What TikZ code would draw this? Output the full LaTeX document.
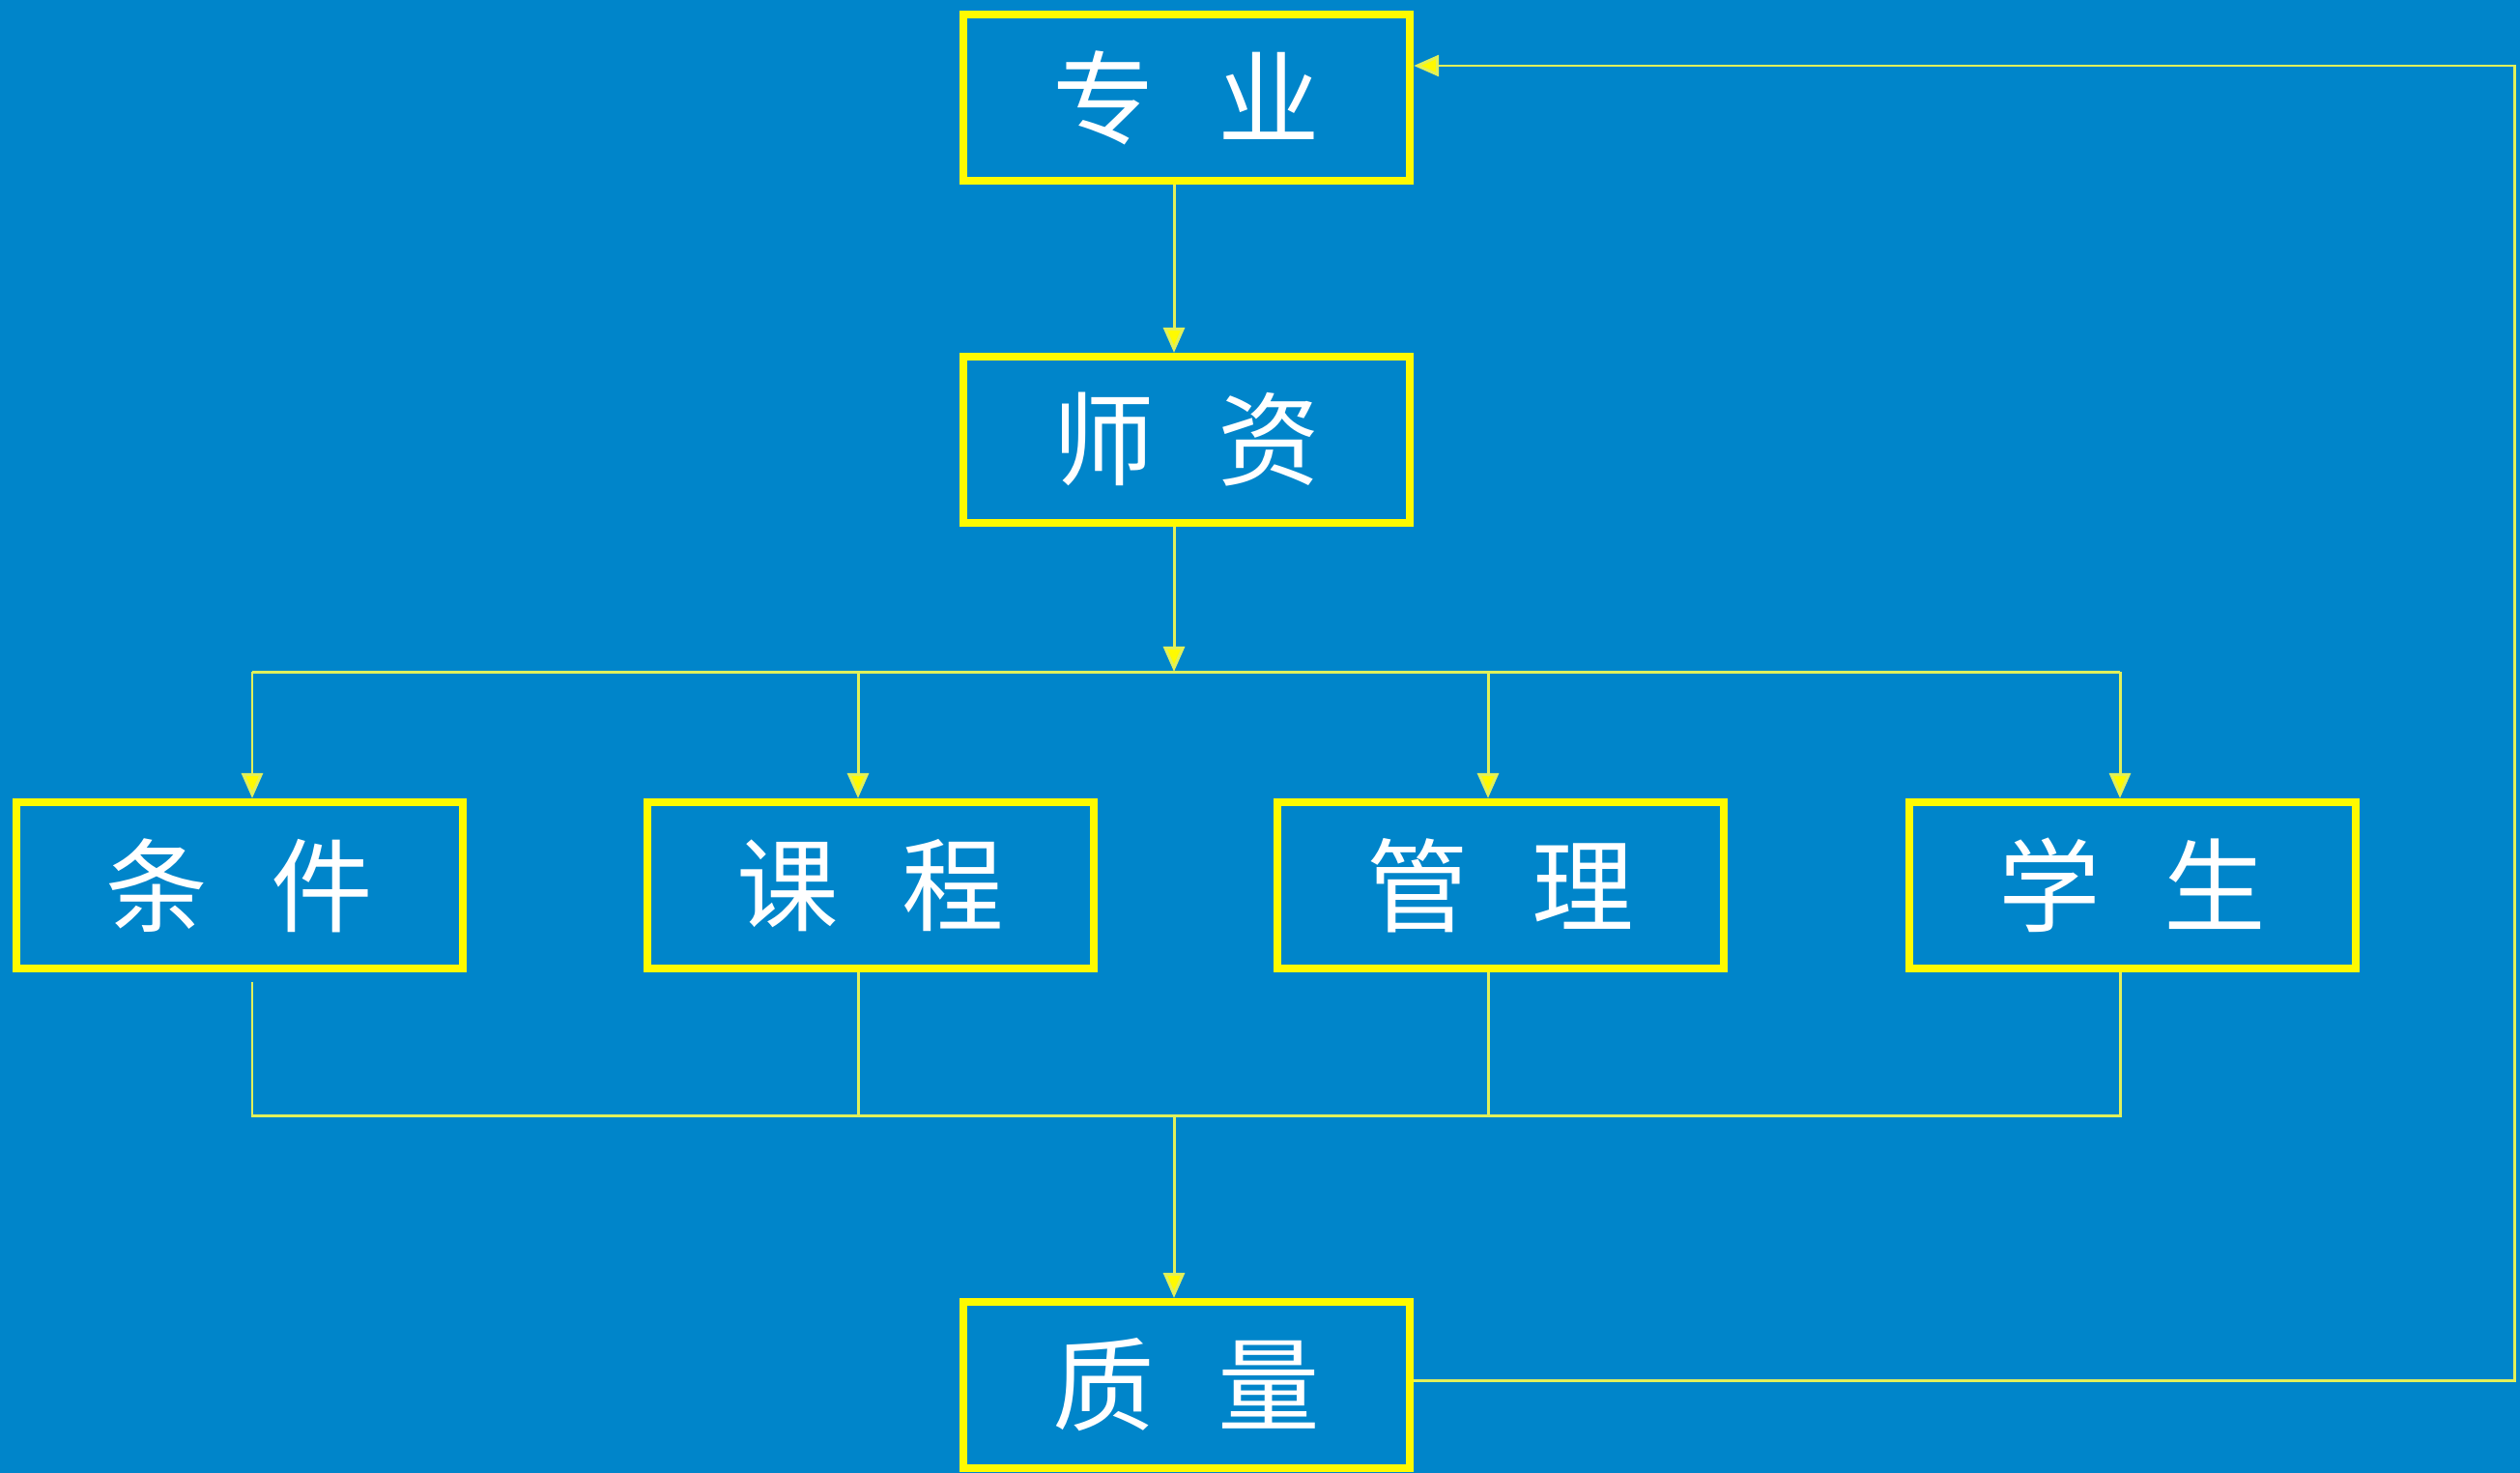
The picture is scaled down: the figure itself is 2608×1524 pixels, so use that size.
\documentclass[tikz,border=0pt]{standalone}
\usepackage{fontspec}
\newfontfamily\cjk{Noto Sans CJK SC}
\usetikzlibrary{arrows.meta}
\definecolor{bgblue}{RGB}{0,133,202}
\definecolor{boxyellow}{RGB}{255,250,0}
\definecolor{lineyellow}{RGB}{225,240,90}
\tikzset{
  box/.style={draw=boxyellow, line width=2.3pt, minimum width=4.62cm, minimum height=1.72cm,
    inner sep=0pt, text=white, font=\cjk\fontsize{30}{33}\selectfont},
  conn/.style={draw=lineyellow, line width=0.85pt},
  arr/.style={conn, -{Triangle[width=0.22cm,length=0.26cm,fill=boxyellow]}}
}
\newcommand{\lbl}[2]{\raisebox{-0.08cm}{#1\hspace{0.62em}#2}}
\begin{document}
\begin{tikzpicture}[x=0.01cm,y=-0.01cm]
\fill[bgblue] (0,0) rectangle (2608,1524);
\useasboundingbox (0,0) rectangle (2608,1524);
% boxes
\node[box] (zy) at (1228,101) {\lbl{专}{业}};
\node[box] (sz) at (1228,455) {\lbl{师}{资}};
\node[box] (tj) at (248,916) {\lbl{条}{件}};
\node[box] (kc) at (901,916) {\lbl{课}{程}};
\node[box] (gl) at (1553,916) {\lbl{管}{理}};
\node[box] (xs) at (2207,916) {\lbl{学}{生}};
\node[box] (zl) at (1228,1433) {\lbl{质}{量}};
% coordinates
\coordinate (m) at (1215,0);
\coordinate (busA) at (1215,695);
\coordinate (a1) at (261,695);
\coordinate (a2) at (888,695);
\coordinate (a3) at (1540,695);
\coordinate (a4) at (2194,695);
\coordinate (busB) at (1215,1154);
\coordinate (b1) at (261,1154);
\coordinate (b2) at (888,1154);
\coordinate (b3) at (1540,1154);
\coordinate (b4) at (2194,1154);
\coordinate (fr) at (2602,1428);
\coordinate (ft) at (2602,68);
% connectors
\draw[arr] (zy.south -| m) -- (sz.north -| m);
\draw[arr] (sz.south -| m) -- (busA);
\draw[conn] (a1) -- (a4);
\draw[arr] (a1) -- (tj.north -| a1);
\draw[arr] (a2) -- (kc.north -| a2);
\draw[arr] (a3) -- (gl.north -| a3);
\draw[arr] (a4) -- (xs.north -| a4);
\draw[conn] ([yshift=-0.1cm]tj.south -| b1) -- (b1) -- (b4) -- (xs.south -| b4);
\draw[conn] (kc.south -| b2) -- (b2);
\draw[conn] (gl.south -| b3) -- (b3);
\draw[arr] (busB) -- (zl.north -| busB);
\draw[arr] (zl.east |- fr) -- (fr) -- (ft) -- (zy.east |- ft);
\end{tikzpicture}
\end{document}
